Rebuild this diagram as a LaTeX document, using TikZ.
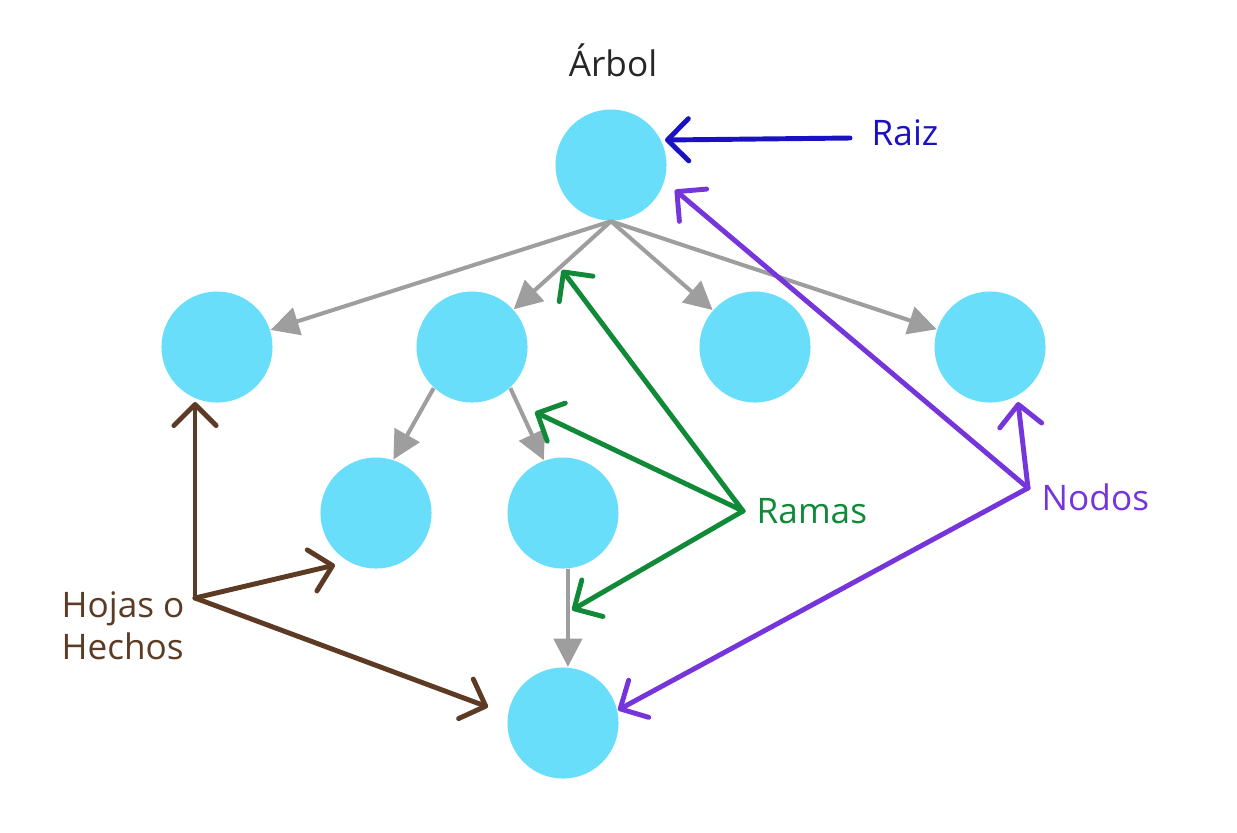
\documentclass[tikz,border=0pt]{standalone}
\usepackage{fontspec}
\setmainfont{Open Sans}
\usetikzlibrary{arrows.meta, positioning}
\definecolor{hoja}{HTML}{69DEFB}
\definecolor{ramagris}{HTML}{9E9E9E}
\definecolor{raizazul}{HTML}{1A10C4}
\definecolor{ramaverde}{HTML}{108A38}
\definecolor{nodomorado}{HTML}{7535DB}
\definecolor{hojacafe}{HTML}{5C3A24}
\definecolor{titulo}{HTML}{262626}

\begin{document}
\begin{tikzpicture}[x=0.01cm, y=-0.01cm,
  nodo/.style={circle, fill=hoja, minimum size=1.11cm, inner sep=0pt},
  rama/.style={draw=ramagris, line width=1.15pt, -{Triangle[length=8pt,width=8pt]}},
  marca/.style={line width=1.4pt, line cap=round, line join=round, -{Straight Barb[length=6pt,width=12pt,round]}},
  etiq/.style={font=\fontsize{10}{12}\selectfont, anchor=west, align=left, inner sep=0pt}]
\useasboundingbox (0,0) rectangle (1237,832);

% Arbol
\node[font=\fontsize{10}{12}\selectfont, text=titulo] (titulo) at (613,60) {Árbol};
\node[nodo] (raiz) at (611,165) {};
\node[nodo] (n1) at (217,347) {};
\node[nodo] (n2) at (472,347) {};
\node[nodo] (n3) at (755,347) {};
\node[nodo] (n4) at (990,347) {};
\node[nodo] (n5) at (376,513) {};
\node[nodo] (n6) at (563,513) {};
\node[nodo] (n7) at (563,723) {};

% Ramas grises
\foreach \hijo in {n1,n2,n3,n4}
  \draw[rama] (raiz.south) -- (\hijo);
\draw[rama] (n2.227) -- (n5.72);
\draw[rama] (n2.313) -- (n6.110);
\draw[rama] ([xshift=1.4pt]n6.south) -- ([xshift=1.4pt]n7.north);

% Etiquetas
\node[etiq, text=raizazul] (lraiz) at (871,133) {Raiz};
\node[etiq, text=ramaverde] (lramas) at (756,511) {Ramas};
\node[etiq, text=nodomorado] (lnodos) at (1041,497) {Nodos};
\node[etiq, text=hojacafe] (lhojas) at (61,626) {Hojas o\\Hechos};

\coordinate (praiz) at (850,138);
\coordinate (pramas) at (743,511);
\coordinate (pnodos) at (1028,488);
\coordinate (phojas) at (195,598);

\coordinate (a1) at (665,140);
\coordinate (r1) at (562,270);
\coordinate (r2) at (535,412);
\coordinate (r3) at (572,610);
\coordinate (m1) at (675,190);
\coordinate (m2) at (1018,402);
\coordinate (m3) at (618,710);
\coordinate (h1) at (195,402);
\coordinate (h2) at (335,565);
\coordinate (h3) at (488,707);

% Flechas de colores
\draw[marca, raizazul] (praiz) -- (a1);
\foreach \p in {r1,r2,r3}
  \draw[marca, ramaverde] (pramas) -- (\p);
\foreach \p in {m1,m2,m3}
  \draw[marca, nodomorado] (pnodos) -- (\p);
\foreach \p in {h1,h2,h3}
  \draw[marca, hojacafe] (phojas) -- (\p);
\end{tikzpicture}
\end{document}
